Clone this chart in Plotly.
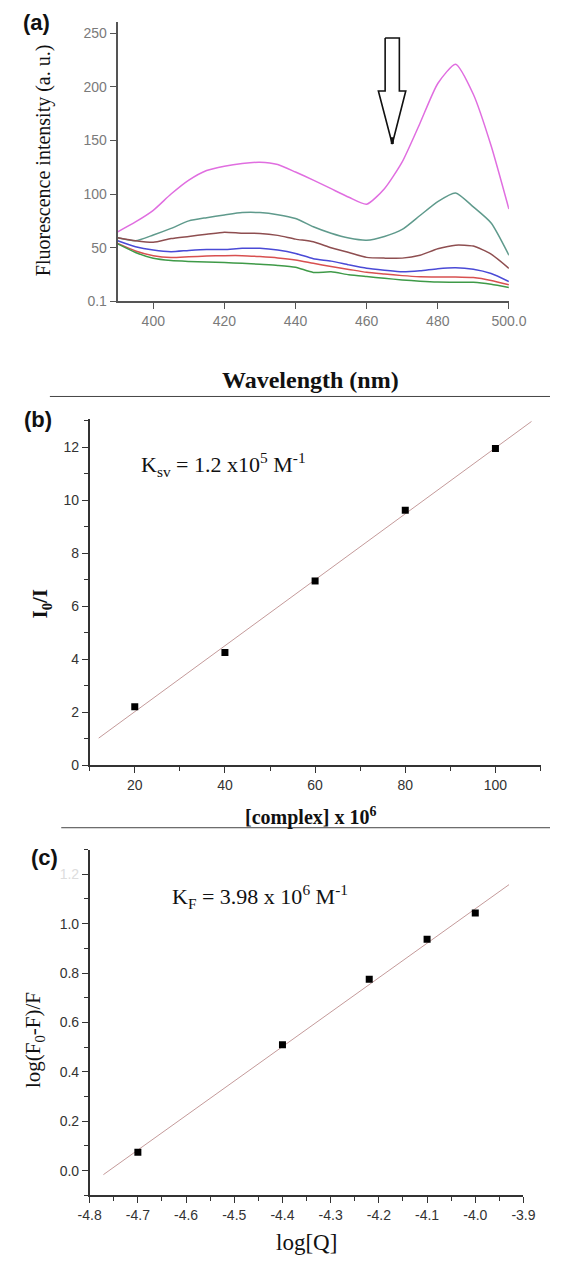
import plotly.graph_objects as go

W, H = 568, 1263

# ---------------- Panel (a) data ----------------
wavelength = [390, 395, 400, 405, 410, 415, 420, 425, 430, 435, 440, 445,
              450, 455, 460, 465, 470, 475, 480, 485, 490, 495, 500]
magenta = [64.8, 74, 84.8, 100, 113, 122, 126, 128.5, 129.6, 127.5, 120.5, 113,
           105, 97, 90.5, 105, 130, 166, 203, 221, 193, 145, 86]
teal = [59.3, 56.5, 61.8, 68, 75, 78, 80.5, 82.7, 82.7, 80.8, 77.2, 69.5,
        63.5, 59, 57, 60.5, 67, 80, 93, 101, 88, 73, 43]
brown = [59.3, 56.5, 55, 58.5, 60.5, 62.5, 64.5, 63.5, 63.3, 61.5, 58, 55.5,
         50, 45.5, 41, 40.3, 40.3, 43, 49, 52.4, 51.5, 44, 30.8]
blue = [56.5, 50.9, 47.8, 46.3, 47.5, 48.4, 48.4, 49.4, 49.4, 47.8, 44.7, 39.8,
        37.5, 34, 30.8, 29, 27.5, 28.5, 30.5, 31.4, 30, 26, 18.5]
red = [54, 47, 42.6, 40.8, 41.5, 42.2, 42.6, 42.6, 41.7, 40.5, 38.6, 35.5,
       32.5, 29.8, 27.1, 25.5, 24, 23, 22.8, 22.8, 22.2, 19.5, 15.4]
green = [53.5, 45.6, 40.1, 38, 37.2, 36.7, 36.2, 35.5, 34.5, 33.5, 31.8, 27,
         27.5, 24.8, 23.1, 21.5, 20, 18.8, 18, 17.8, 17.8, 16, 12.9]
a_xticks = [400, 420, 440, 460, 480, 500]
a_xticktext = ["400", "420", "440", "460", "480", "500.0"]
a_yticks = [0.1, 50, 100, 150, 200, 250]
a_yticktext = ["0.1", "50", "100", "150", "200", "250"]
# outline of the hollow arrow (nm, a.u.)
arrow_x = [465.2, 469.2, 469.2, 471.0, 467.2, 463.3, 465.2, 465.2]
arrow_y = [245.4, 245.4, 196.0, 196.0, 146.6, 196.0, 196.0, 245.4]
arrow_tip_x = [467.2, 467.2]
arrow_tip_y = [146.6, 153.0]

# ---------------- Panel (b) data ----------------
complex_conc = [20, 40, 60, 80, 100]
i0_over_i = [2.2, 4.25, 6.95, 9.62, 11.95]
fit_b_x = [12.0, 108.0]
fit_b_y = [1.02, 12.97]
b_xticks = [20, 40, 60, 80, 100]
b_yticks = [0, 2, 4, 6, 8, 10, 12]

# ---------------- Panel (c) data ----------------
logQ = [-4.7, -4.4, -4.22, -4.1, -4.0]
logF = [0.075, 0.51, 0.775, 0.937, 1.043]
fit_c_x = [-4.7715, -3.93]
fit_c_y = [-0.016, 1.158]
c_xticks = [-4.8, -4.7, -4.6, -4.5, -4.4, -4.3, -4.2, -4.1, -4.0, -3.9]
c_xticktext = ["-4.8", "-4.7", "-4.6", "-4.5", "-4.4", "-4.3", "-4.2", "-4.1", "-4.0", "-3.9"]
c_yticks = [0.0, 0.2, 0.4, 0.6, 0.8, 1.0, 1.2]
c_yticktext = ["0.0", "0.2", "0.4", "0.6", "0.8", "1.0",
               "<span style='color:#dddddd'>1.2</span>"]

SERIF = "Liberation Serif, Times New Roman, serif"
SANS = "Liberation Sans, Arial, sans-serif"


def px(x):
    return x / W


def py(y):
    return 1 - y / H


fig = go.Figure()

curves = [(magenta, "#e06ee0"), (teal, "#5f9a8c"), (brown, "#8e4e50"),
          (blue, "#4a4ad6"), (red, "#d85050"), (green, "#3f9a48")]
for vals, col in curves:
    fig.add_trace(go.Scatter(x=wavelength, y=vals, mode="lines",
                             line=dict(color=col, width=1.5, shape="spline", smoothing=0.6),
                             xaxis="x", yaxis="y", showlegend=False, hoverinfo="skip"))

fig.add_trace(go.Scatter(x=arrow_x, y=arrow_y, mode="lines",
                         line=dict(color="#111", width=1.6),
                         xaxis="x", yaxis="y", showlegend=False, hoverinfo="skip"))
fig.add_trace(go.Scatter(x=arrow_tip_x, y=arrow_tip_y, mode="lines",
                         line=dict(color="#111", width=3),
                         xaxis="x", yaxis="y", showlegend=False, hoverinfo="skip"))

fig.add_trace(go.Scatter(x=fit_b_x, y=fit_b_y, mode="lines",
                         line=dict(color="#c49a9a", width=1),
                         xaxis="x2", yaxis="y2", showlegend=False))
fig.add_trace(go.Scatter(x=complex_conc, y=i0_over_i, mode="markers",
                         marker=dict(symbol="square", size=7, color="#000"),
                         xaxis="x2", yaxis="y2", showlegend=False))

fig.add_trace(go.Scatter(x=fit_c_x, y=fit_c_y, mode="lines",
                         line=dict(color="#c49a9a", width=1),
                         xaxis="x3", yaxis="y3", showlegend=False))
fig.add_trace(go.Scatter(x=logQ, y=logF, mode="markers",
                         marker=dict(symbol="square", size=7, color="#000"),
                         xaxis="x3", yaxis="y3", showlegend=False))

common = dict(showgrid=False, zeroline=False, showline=True, ticks="outside",
              ticklen=6, tickwidth=1.2)

fig.update_layout(
    width=W, height=H, autosize=False,
    margin=dict(l=0, r=0, t=0, b=0),
    paper_bgcolor="white", plot_bgcolor="white",
    xaxis=dict(domain=[px(111.6), px(524.6)], range=[390, 500], anchor="y",
               tickvals=a_xticks, ticktext=a_xticktext,
               linecolor="#555", linewidth=2, tickcolor="#555",
               tickfont=dict(family=SANS, size=14, color="#7a7a7a"), **common),
    yaxis=dict(domain=[py(303.3), py(21.7)], range=[0, 260.7], anchor="x",
               tickvals=a_yticks, ticktext=a_yticktext,
               linecolor="#555", linewidth=2, tickcolor="#555",
               tickfont=dict(family=SANS, size=14, color="#7a7a7a"), **common),
    xaxis2=dict(domain=[px(82), px(558)], range=[10, 110], anchor="y2",
                tickvals=b_xticks,
                linecolor="#333", linewidth=1.5, tickcolor="#333",
                minor=dict(dtick=10, tick0=10, ticks="outside", ticklen=4, tickcolor="#333"),
                tickfont=dict(family=SANS, size=14, color="#333"), **common),
    yaxis2=dict(domain=[py(770), py(422)], range=[0, 13.05], anchor="x2",
                tickvals=b_yticks,
                linecolor="#333", linewidth=1.5, tickcolor="#333",
                minor=dict(dtick=1, tick0=0, ticks="outside", ticklen=4, tickcolor="#333"),
                tickfont=dict(family=SANS, size=14, color="#333"), **common),
    xaxis3=dict(domain=[px(82), px(540)], range=[-4.8, -3.9], anchor="y3",
                tickvals=c_xticks, ticktext=c_xticktext,
                linecolor="#333", linewidth=1.5, tickcolor="#333",
                minor=dict(dtick=0.05, tick0=-4.8, ticks="outside", ticklen=4, tickcolor="#333"),
                tickfont=dict(family=SANS, size=14, color="#333"), **common),
    yaxis3=dict(domain=[py(1203), py(855)], range=[-0.1, 1.3], anchor="x3",
                tickvals=c_yticks, ticktext=c_yticktext,
                linecolor="#333", linewidth=1.5, tickcolor="#333",
                minor=dict(dtick=0.1, tick0=0, ticks="outside", ticklen=4, tickcolor="#333"),
                tickfont=dict(family=SANS, size=14, color="#333"), **common),
)

shapes = [
    dict(type="line", xref="paper", yref="paper", x0=px(40), x1=1, y0=py(399), y1=py(399),
         line=dict(color="#444", width=1)),
    dict(type="line", xref="paper", yref="paper", x0=px(52), x1=1, y0=py(833), y1=py(833),
         line=dict(color="#444", width=1)),
]
fig.update_layout(shapes=shapes)


def ann(text, x, y, size, family, color="#111", angle=0, xanchor="center"):
    return dict(text=text, x=px(x), y=py(y), xref="paper", yref="paper",
                showarrow=False, xanchor=xanchor, yanchor="middle",
                textangle=angle, font=dict(family=family, size=size, color=color))


annotations = [
    ann("<b>(a)</b>", 26, 23, 22, SANS),
    ann("<b>(b)</b>", 27, 422, 22, SANS),
    ann("<b>(c)</b>", 34, 863, 22, SANS),
    ann("Fluorescence intensity (a. u.)", 34, 161, 20, SERIF, angle=-90),
    ann("<b>Wavelength (nm)</b>", 315, 382, 24, SERIF),
    ann("<b>I<sub>0</sub>/I</b>", 31, 607, 21, SERIF, angle=-90),
    ann("<b>[complex] x 10<sup>6</sup></b>", 315, 822, 20, SERIF),
    ann("log(F<sub>0</sub>-F)/F", 24, 1047, 21, SERIF, angle=-90),
    ann("log[Q]", 311, 1250, 23, SERIF),
    ann("K<sub>sv</sub> = 1.2 x10<sup>5</sup> M<sup>-1</sup>", 134, 467, 22, SERIF, xanchor="left"),
    ann("K<sub>F</sub> = 3.98 x 10<sup>6</sup> M<sup>-1</sup>", 167, 902, 22, SERIF, xanchor="left"),
]
fig.update_layout(annotations=annotations)

fig.write_html("out.html")
